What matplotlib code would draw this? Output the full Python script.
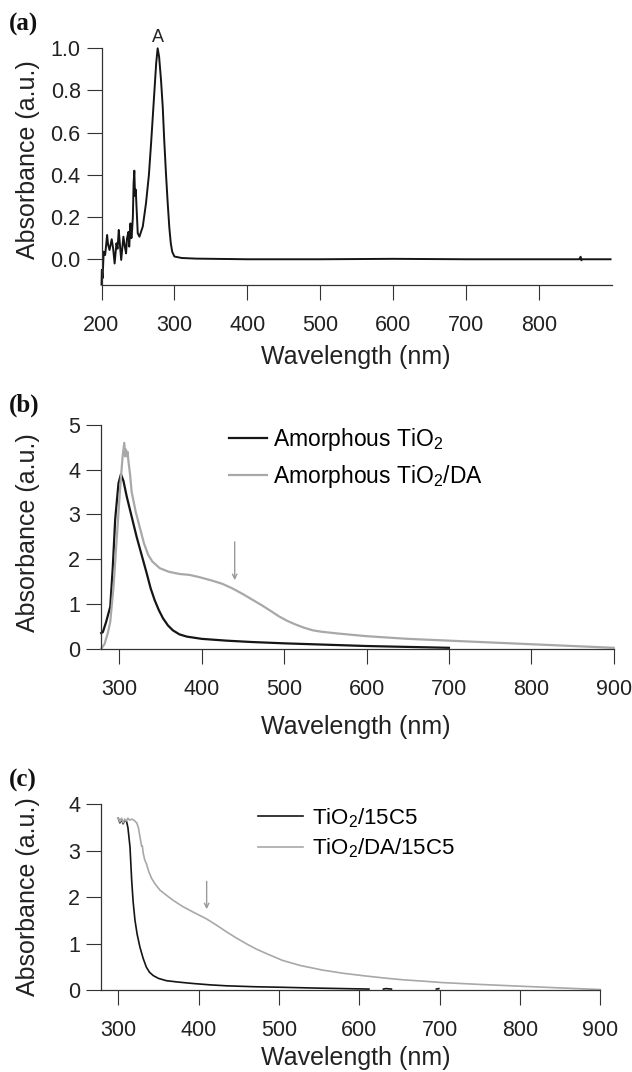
import numpy as np
import matplotlib
matplotlib.use("Agg")
import matplotlib.pyplot as plt

# ---------------- data ----------------

# (a) single spectrum, normalised
wl_a = [200, 200.5, 201.5, 203, 205, 207.7, 209, 211, 214, 216, 218, 220.5, 222,
        223.7, 225, 227, 230, 232, 233.7, 235, 237, 238, 239.7, 241, 242, 243,
        244, 245, 246, 247, 248, 249.7, 252, 256.6, 261, 265, 268, 272.6, 275,
        277, 279, 281.6, 284, 286, 288.5, 290.8, 293, 295, 297, 300, 310, 330,
        400, 500, 600, 700, 800, 855, 857, 858, 859, 898]
abs_a = [-0.12, -0.05, -0.09, 0.036, 0.02, 0.115, 0.07, 0.044, 0.095, 0.05, -0.02,
         0.076, 0.05, 0.139, 0.08, -0.003, 0.107, 0.06, 0.028, 0.1, 0.13, 0.06,
         0.17, 0.1, 0.14, 0.2, 0.36, 0.42, 0.3, 0.33, 0.25, 0.123, 0.107, 0.155,
         0.265, 0.4, 0.55, 0.80, 0.93, 1.0, 0.96, 0.85, 0.72, 0.565, 0.4, 0.265,
         0.15, 0.076, 0.035, 0.013, 0.006, 0.003, 0.0, 0.0, 0.002, 0.0, 0.0, 0.0,
         0.012, -0.005, 0.0, 0.0]

# (b) amorphous TiO2 and TiO2/DA
wl_b1 = [278, 280, 284, 289, 292, 295, 299, 302, 305, 309, 315, 321, 327, 333,
         338, 343, 348, 353, 359, 365, 373, 382, 400, 430, 460, 500, 550, 600,
         650, 700]
abs_b1 = [0.35, 0.37, 0.6, 0.94, 1.8, 2.9, 3.7, 3.9, 3.75, 3.4, 2.95, 2.5, 2.1,
          1.7, 1.35, 1.08, 0.86, 0.68, 0.52, 0.41, 0.32, 0.27, 0.22, 0.18, 0.15,
          0.12, 0.09, 0.06, 0.04, 0.02]
wl_b2 = [278, 282, 286, 289, 293, 297, 301, 304, 306, 307, 308, 309, 310, 311,
         313, 315, 320, 325, 330, 335, 340, 349, 360, 373, 385, 397, 413, 425,
         437, 450, 461, 473, 484, 494, 504, 514, 524, 535, 545, 565, 600, 650,
         700, 750, 800, 850, 900]
abs_b2 = [0.0, 0.1, 0.35, 0.6, 1.4, 2.5, 3.6, 4.3, 4.6, 4.3, 4.45, 4.3, 4.4, 4.2,
          3.9, 3.5, 3.05, 2.7, 2.35, 2.1, 1.95, 1.8, 1.72, 1.67, 1.65, 1.6, 1.52,
          1.45, 1.35, 1.22, 1.1, 0.97, 0.84, 0.72, 0.62, 0.54, 0.47, 0.41, 0.38,
          0.34, 0.28, 0.22, 0.18, 0.14, 0.10, 0.06, 0.02]

# (c) TiO2/15C5 and TiO2/DA/15C5 (nan = gap in the trace)
wl_c1 = [300, 302, 304, 306, 308, 310.3, 312, 314.6, 316.7, 318.5, 320.8, 323.5,
         327, 331, 335, 339, 343.6, 350, 360, 375, 393, 415, 435, 470, 500, 550,
         612, 613, 630, 633, 640, 641, 696, 699]
abs_c1 = [3.7, 3.6, 3.68, 3.58, 3.66, 3.63, 3.5, 3.08, 2.36, 1.9, 1.5, 1.2, 0.92,
          0.68, 0.49, 0.38, 0.31, 0.25, 0.2, 0.17, 0.14, 0.11, 0.09, 0.07, 0.06,
          0.04, 0.02, np.nan, 0.02, 0.03, 0.02, np.nan, 0.02, 0.03]
wl_c2 = [300, 302, 304, 306, 308, 310, 312, 314, 317, 320, 323, 325, 327, 329,
         330, 331, 333, 335, 338, 341.6, 346, 352, 360, 368.5, 380, 393, 410,
         422, 435, 447, 460, 472, 485, 504, 526, 554, 580, 604, 630, 654, 680,
         703, 750, 803, 850, 900]
abs_c2 = [3.7, 3.62, 3.7, 3.6, 3.68, 3.64, 3.7, 3.66, 3.68, 3.65, 3.6, 3.5, 3.3,
          3.1, 3.1, 2.95, 2.8, 2.72, 2.55, 2.4, 2.28, 2.15, 2.04, 1.93, 1.8, 1.68,
          1.53, 1.4, 1.25, 1.12, 0.99, 0.88, 0.78, 0.64, 0.53, 0.43, 0.36, 0.31,
          0.26, 0.22, 0.19, 0.16, 0.12, 0.08, 0.045, 0.01]

labels_b = ["Amorphous TiO$_2$", "Amorphous TiO$_2$/DA"]
labels_c = ["TiO$_2$/15C5", "TiO$_2$/DA/15C5"]

# ---------------- style ----------------
plt.rcParams['font.family'] = ['Liberation Sans', 'DejaVu Sans']
plt.rcParams['mathtext.fontset'] = 'custom'
plt.rcParams['mathtext.rm'] = 'Liberation Sans'
plt.rcParams['mathtext.it'] = 'Liberation Sans:italic'

BLACK = '#151515'
GREY = '#a8a8a8'
AXC = '#333333'

W, H = 632, 1072
fig = plt.figure(figsize=(W / 100, H / 100), dpi=100)


def box(l, t, r, b):
    # pixel box -> figure fraction
    return [l / W, 1 - b / H, (r - l) / W, (b - t) / H]


def style(ax):
    for s in ['top', 'right']:
        ax.spines[s].set_visible(False)
    for s in ['left', 'bottom']:
        ax.spines[s].set_color(AXC)
        ax.spines[s].set_linewidth(0.9)
    ax.tick_params(direction='out', length=11, width=0.8, color=AXC,
                   labelsize=15.5, labelcolor='#222222')
    ax.tick_params(axis='x', pad=10.5)
    ax.tick_params(axis='y', pad=4)


# ---- (a) ----
ax_a = fig.add_axes(box(101.5, 48.3, 612, 285))
ax_a.plot(wl_a, abs_a, color=BLACK, lw=1.4, clip_on=False)
ax_a.set_xlim(200, 900)
ax_a.set_ylim(-0.122, 1.0)
ax_a.set_xticks([200, 300, 400, 500, 600, 700, 800])
ax_a.set_yticks([0.0, 0.2, 0.4, 0.6, 0.8, 1.0])
ax_a.set_yticklabels(['%.1f' % v for v in [0.0, 0.2, 0.4, 0.6, 0.8, 1.0]])
ax_a.text(277, 1.03, 'A', ha='center', va='baseline', fontsize=13, color='#222222')
style(ax_a)

# ---- (b) ----
ax_b = fig.add_axes(box(101.2, 425, 613.7, 648.7))
ax_b.plot(wl_b1, abs_b1, color=BLACK, lw=1.6, label=labels_b[0], clip_on=False)
ax_b.plot(wl_b2, abs_b2, color=GREY, lw=1.6, label=labels_b[1], clip_on=False)
ax_b.set_xlim(278, 900)
ax_b.set_ylim(0, 5)
ax_b.set_xticks([300, 400, 500, 600, 700, 800, 900])
ax_b.set_yticks([0, 1, 2, 3, 4, 5])
ax_b.annotate('', xy=(440, 1.47), xytext=(440, 2.45),
              arrowprops=dict(arrowstyle='->', color='#999999', lw=1.0, mutation_scale=8))
ax_b.legend(loc='upper left', bbox_to_anchor=(0.25, 0.995), frameon=False,
            fontsize=16.5, handlelength=1.65, handletextpad=0.25, labelspacing=0.42,
            borderaxespad=0, borderpad=0)
style(ax_b)

# ---- (c) ----
ax_c = fig.add_axes(box(101, 804.3, 600.3, 990))
ax_c.plot(wl_c1, abs_c1, color=BLACK, lw=1.2, label=labels_c[0], clip_on=False)
ax_c.plot(wl_c2, abs_c2, color=GREY, lw=1.2, label=labels_c[1], clip_on=False)
ax_c.set_xlim(278.5, 900)
ax_c.set_ylim(0, 4)
ax_c.set_xticks([300, 400, 500, 600, 700, 800, 900])
ax_c.set_yticks([0, 1, 2, 3, 4])
ax_c.annotate('', xy=(410, 1.68), xytext=(410, 2.4),
              arrowprops=dict(arrowstyle='->', color='#999999', lw=1.0, mutation_scale=8))
ax_c.legend(loc='upper left', bbox_to_anchor=(0.315, 0.99), frameon=False,
            fontsize=16, handlelength=2.0, handletextpad=0.4, labelspacing=0.32,
            borderaxespad=0, borderpad=0)
style(ax_c)

# axis titles and panel letters (pixel positions)
for yc in [160, 533, 897]:
    fig.text(28 / W, 1 - yc / H, 'Absorbance (a.u.)', rotation=90, ha='center',
             va='center', fontsize=18, color='#222222')
for yc in [357, 727, 1058]:
    fig.text(356 / W, 1 - yc / H, 'Wavelength (nm)', ha='center', va='center',
             fontsize=18, color='#222222')
for letter, yc in [('(a)', 24), ('(b)', 405), ('(c)', 780)]:
    fig.text(9 / W, 1 - yc / H, letter, ha='left', va='center', fontsize=18,
             fontweight='bold', family='Liberation Serif', color='#111111')

plt.savefig('out.png', dpi=100)
